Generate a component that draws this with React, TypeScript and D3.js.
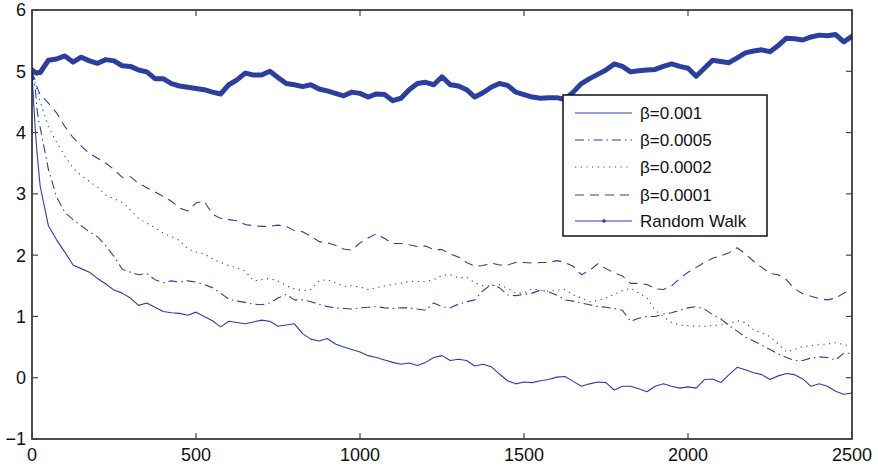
import React from "react";
import * as d3 from "d3";

const T = [0, 5, 10, 15, 20, 25, 50, 75, 100, 125, 150, 175, 200, 225, 250, 275, 300, 325, 350, 375, 400, 425, 450, 475, 500, 525, 550, 575, 600, 625, 650, 675, 700, 725, 750, 775, 800, 825, 850, 875, 900, 925, 950, 975, 1000, 1025, 1050, 1075, 1100, 1125, 1150, 1175, 1200, 1225, 1250, 1275, 1300, 1325, 1350, 1375, 1400, 1425, 1450, 1475, 1500, 1525, 1550, 1575, 1600, 1625, 1650, 1675, 1700, 1725, 1750, 1775, 1800, 1825, 1850, 1875, 1900, 1925, 1950, 1975, 2000, 2025, 2050, 2075, 2100, 2125, 2150, 2175, 2200, 2225, 2250, 2275, 2300, 2325, 2350, 2375, 2400, 2425, 2450, 2475, 2500];

const beta001 = [5.0, 4.5, 4.05, 3.7, 3.4, 3.12, 2.48, 2.25, 2.05, 1.84, 1.78, 1.72, 1.62, 1.53, 1.43, 1.38, 1.3, 1.18, 1.22, 1.15, 1.08, 1.06, 1.05, 1.02, 1.07, 1.0, 0.93, 0.83, 0.92, 0.9, 0.88, 0.91, 0.94, 0.92, 0.84, 0.86, 0.88, 0.72, 0.63, 0.6, 0.64, 0.55, 0.5, 0.46, 0.42, 0.36, 0.33, 0.29, 0.25, 0.22, 0.24, 0.2, 0.25, 0.33, 0.36, 0.28, 0.3, 0.28, 0.19, 0.22, 0.18, 0.06, -0.05, -0.1, -0.07, -0.08, -0.05, -0.03, 0.01, 0.02, -0.06, -0.14, -0.1, -0.07, -0.08, -0.2, -0.14, -0.14, -0.18, -0.23, -0.14, -0.1, -0.14, -0.17, -0.15, -0.17, -0.03, -0.02, -0.08, 0.05, 0.17, 0.13, 0.08, 0.05, -0.03, 0.03, 0.07, 0.05, -0.02, -0.14, -0.1, -0.14, -0.22, -0.27, -0.25];

const beta0005 = [5.0, 4.85, 4.72, 4.4, 4.2, 4.08, 3.4, 2.95, 2.7, 2.58, 2.48, 2.38, 2.3, 2.15, 1.98, 1.77, 1.72, 1.68, 1.7, 1.6, 1.55, 1.58, 1.56, 1.58, 1.56, 1.52, 1.47, 1.38, 1.28, 1.25, 1.23, 1.2, 1.19, 1.22, 1.3, 1.36, 1.27, 1.27, 1.24, 1.2, 1.16, 1.14, 1.13, 1.12, 1.14, 1.15, 1.16, 1.14, 1.13, 1.14, 1.14, 1.12, 1.1, 1.22, 1.16, 1.14, 1.2, 1.24, 1.27, 1.42, 1.52, 1.47, 1.35, 1.34, 1.36, 1.38, 1.43, 1.4, 1.35, 1.27, 1.25, 1.22, 1.19, 1.16, 1.15, 1.13, 1.1, 0.92, 0.97, 1.0, 1.0, 1.04, 1.06, 1.1, 1.14, 1.16, 1.12, 1.03, 0.96, 0.85, 0.76, 0.66, 0.6, 0.53, 0.46, 0.39, 0.33, 0.28, 0.28, 0.32, 0.34, 0.33, 0.29, 0.4, 0.4];

const beta0002 = [5.0, 4.9, 4.8, 4.7, 4.6, 4.5, 4.1, 3.84, 3.62, 3.42, 3.3, 3.2, 3.11, 2.98, 2.92, 2.86, 2.74, 2.6, 2.52, 2.45, 2.36, 2.3, 2.24, 2.1, 2.05, 2.02, 1.94, 1.88, 1.83, 1.79, 1.74, 1.58, 1.6, 1.62, 1.58, 1.5, 1.45, 1.42, 1.44, 1.58, 1.6, 1.55, 1.49, 1.5, 1.48, 1.44, 1.47, 1.5, 1.52, 1.54, 1.57, 1.57, 1.57, 1.6, 1.67, 1.68, 1.63, 1.64, 1.55, 1.5, 1.5, 1.52, 1.46, 1.38, 1.38, 1.45, 1.43, 1.41, 1.43, 1.44, 1.35, 1.3, 1.24, 1.26, 1.3, 1.36, 1.42, 1.46, 1.38, 1.3, 1.1, 1.0, 0.9, 0.86, 0.85, 0.84, 0.84, 0.85, 0.86, 0.88, 0.93, 0.9, 0.78, 0.73, 0.67, 0.55, 0.42, 0.46, 0.51, 0.52, 0.54, 0.55, 0.57, 0.54, 0.51];

const beta0001 = [5.0, 4.92, 4.85, 4.75, 4.68, 4.62, 4.48, 4.32, 4.1, 3.92, 3.78, 3.66, 3.58, 3.5, 3.4, 3.27, 3.28, 3.17, 3.1, 3.03, 2.96, 2.88, 2.77, 2.72, 2.85, 2.88, 2.67, 2.6, 2.58, 2.56, 2.5, 2.48, 2.47, 2.47, 2.49, 2.47, 2.4, 2.38, 2.31, 2.22, 2.2, 2.16, 2.1, 2.08, 2.2, 2.28, 2.35, 2.27, 2.19, 2.19, 2.17, 2.14, 2.15, 2.09, 2.09, 2.02, 1.97, 1.88, 1.82, 1.83, 1.87, 1.84, 1.84, 1.88, 1.88, 1.87, 1.88, 1.88, 1.91, 1.88, 1.82, 1.68, 1.75, 1.86, 1.78, 1.71, 1.66, 1.54, 1.54, 1.52, 1.45, 1.44, 1.5, 1.62, 1.72, 1.8, 1.88, 1.95, 1.99, 2.04, 2.12, 2.02, 1.9, 1.8, 1.7, 1.68, 1.6, 1.45, 1.37, 1.33, 1.29, 1.27, 1.3, 1.38, 1.44];

const randomWalk = [5.02, 5.0, 4.98, 4.97, 4.98, 4.98, 5.18, 5.2, 5.25, 5.15, 5.23, 5.17, 5.13, 5.19, 5.17, 5.09, 5.08, 5.02, 4.99, 4.88, 4.88, 4.8, 4.76, 4.74, 4.72, 4.7, 4.66, 4.63, 4.78, 4.86, 4.97, 4.94, 4.94, 5.0, 4.9, 4.8, 4.78, 4.75, 4.78, 4.71, 4.68, 4.64, 4.6, 4.66, 4.64, 4.58, 4.63, 4.62, 4.52, 4.56, 4.7, 4.8, 4.82, 4.78, 4.91, 4.78, 4.76, 4.7, 4.58, 4.65, 4.74, 4.8, 4.77, 4.66, 4.62, 4.58, 4.56, 4.57, 4.57, 4.54, 4.66, 4.8, 4.88, 4.95, 5.02, 5.12, 5.08, 4.99, 5.01, 5.02, 5.03, 5.08, 5.12, 5.08, 5.05, 4.92, 5.05, 5.18, 5.16, 5.14, 5.22, 5.3, 5.33, 5.35, 5.32, 5.42, 5.54, 5.53, 5.51, 5.56, 5.59, 5.58, 5.6, 5.48, 5.57];

const xTicks = [0, 500, 1000, 1500, 2000, 2500];
const yTicks = [-1, 0, 1, 2, 3, 4, 5, 6];
const seriesNames = ["β=0.001", "β=0.0005", "β=0.0002", "β=0.0001", "Random Walk"];

const BLUE = "#2c3f9e";
const W = 878, H = 466;
const L = 32, R = 852, TOP = 10, BOT = 439;

export default function App() {
  const x = d3.scaleLinear().domain([0, 2500]).range([L, R]);
  const y = d3.scaleLinear().domain([-1, 6]).range([BOT, TOP]);
  const mk = (vals: number[]) =>
    d3.line<number>().x((_, i) => x(T[i])).y((v) => y(v))(vals) || "";

  const styles = [
    { data: beta001, dash: undefined as string | undefined, width: 1.1 },
    { data: beta0005, dash: "9,4,1.5,4", width: 1.1 },
    { data: beta0002, dash: "1.2,4.5", width: 1.1 },
    { data: beta0001, dash: "9,6", width: 1.1 },
    { data: randomWalk, dash: undefined as string | undefined, width: 5 },
  ];

  const font = "'Liberation Sans', Arial, Helvetica, sans-serif";
  const legX = 563, legY = 95, legW = 204, legH = 141;
  const rowY = [113, 140, 167, 195, 221];

  return (
    <svg width={W} height={H} style={{ position: "absolute", left: 0, top: 0, background: "#fff" }}>
      <rect x={0} y={0} width={W} height={H} fill="#fff" />
      <defs>
        <clipPath id="plot">
          <rect x={L} y={TOP} width={R - L} height={BOT - TOP} />
        </clipPath>
      </defs>
      <g clipPath="url(#plot)">
        {styles.map((s, i) => (
          <path
            key={i}
            d={mk(s.data)}
            fill="none"
            stroke={BLUE}
            strokeWidth={s.width}
            strokeDasharray={s.dash}
            strokeLinejoin="round"
            strokeLinecap={i === 4 ? "round" : "butt"}
          />
        ))}
      </g>
      <rect x={L} y={TOP} width={R - L} height={BOT - TOP} fill="none" stroke="#222" strokeWidth={1.6} />
      {xTicks.map((t) => (
        <g key={"x" + t}>
          <line x1={x(t)} x2={x(t)} y1={BOT} y2={BOT - 6} stroke="#444" strokeWidth={1.2} />
          <line x1={x(t)} x2={x(t)} y1={TOP} y2={TOP + 6} stroke="#444" strokeWidth={1.2} />
          <text x={x(t)} y={461} textAnchor="middle" fontFamily={font} fontSize={18} fill="#111">
            {t}
          </text>
        </g>
      ))}
      {yTicks.map((t) => (
        <g key={"y" + t}>
          <line x1={L} x2={L + 6} y1={y(t)} y2={y(t)} stroke="#444" strokeWidth={1.2} />
          <line x1={R} x2={R - 6} y1={y(t)} y2={y(t)} stroke="#444" strokeWidth={1.2} />
          <text x={26} y={y(t)} dy="0.36em" textAnchor="end" fontFamily={font} fontSize={18} fill="#111">
            {t < 0 ? "\u2212" + Math.abs(t) : t}
          </text>
        </g>
      ))}
      <rect x={legX} y={legY} width={legW} height={legH} fill="#fff" stroke="#111" strokeWidth={1.5} />
      {seriesNames.map((n, i) => (
        <g key={n}>
          <line
            x1={575}
            x2={632}
            y1={rowY[i]}
            y2={rowY[i]}
            stroke={BLUE}
            strokeWidth={1.1}
            strokeDasharray={i === 4 ? undefined : styles[i].dash}
          />
          {i === 4 && <circle cx={604} cy={rowY[i]} r={1.8} fill={BLUE} />}
          <text x={640} y={rowY[i]} dy="0.36em" fontFamily={font} fontSize={17} fill="#111">
            {n}
          </text>
        </g>
      ))}
    </svg>
  );
}
